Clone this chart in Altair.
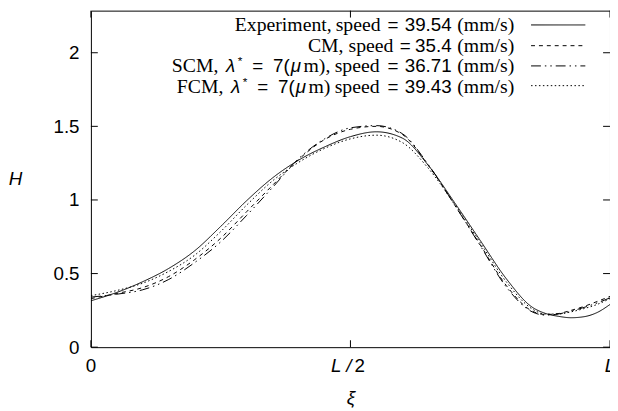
import altair as alt
import pandas as pd

# ---------------- data ----------------
series_names = ["Experiment", "CM", "SCM", "FCM"]
xi = [0.0, 0.05, 0.10, 0.15, 0.20, 0.25, 0.30, 0.35, 0.40, 0.45, 0.50, 0.55,
      0.60, 0.65, 0.70, 0.75, 0.80, 0.85, 0.875, 0.90, 0.925, 0.95, 0.975, 1.0]
H_exp = [0.315, 0.372, 0.445, 0.535, 0.655, 0.82, 0.995, 1.15, 1.27, 1.36, 1.43, 1.463,
         1.42, 1.235, 0.985, 0.725, 0.466, 0.272, 0.23, 0.21, 0.20, 0.207, 0.235, 0.29]
H_cm = [0.33, 0.365, 0.405, 0.48, 0.595, 0.74, 0.92, 1.10, 1.275, 1.41, 1.48, 1.50,
        1.445, 1.235, 0.97, 0.695, 0.42, 0.245, 0.222, 0.228, 0.25, 0.277, 0.31, 0.345]
H_scm = [0.34, 0.36, 0.39, 0.46, 0.575, 0.715, 0.895, 1.085, 1.28, 1.415, 1.49, 1.505,
         1.45, 1.24, 0.97, 0.69, 0.41, 0.24, 0.218, 0.225, 0.245, 0.27, 0.30, 0.335]
H_fcm = [0.35, 0.385, 0.435, 0.515, 0.625, 0.785, 0.965, 1.13, 1.255, 1.35, 1.415, 1.44,
         1.39, 1.215, 0.975, 0.71, 0.445, 0.26, 0.225, 0.225, 0.24, 0.262, 0.29, 0.33]

y_ticks = [0, 0.5, 1, 1.5, 2]
x_ticks = [0, 0.5, 1]

rows = []
for name, vals in zip(series_names, [H_exp, H_cm, H_scm, H_fcm]):
    for x, h in zip(xi, vals):
        rows.append({"series": name, "xi": x, "H": h})
df = pd.DataFrame(rows)

# ---------------- layout / style ----------------
W, HGT = 526, 341
YMAX = 2.286
OX, OY = 92, 8          # page position of the plot origin
dashes = [[1, 0], [4, 4], [10, 4, 1.5, 4, 1.5, 4], [1.5, 2.5]]
SANS = "Liberation Sans"
SERIF = "Liberation Serif"
FS = 19


def to_xi(page_x):
    return (page_x - OX) / W


def to_H(page_y):
    return YMAX * (1 - (page_y - OY) / HGT)


xs = alt.Scale(domain=[0, 1], nice=False, zero=False)
ys = alt.Scale(domain=[0, YMAX], nice=False)
dash_scale = alt.Scale(domain=series_names, range=dashes)

x_axis = alt.Axis(
    title="ξ", labels=False, ticks=False, domain=False, grid=False,
    titleFont=SANS, titleFontStyle="italic", titleFontSize=FS, titleFontWeight="normal",
    titleColor="black", titleY=57, titleBaseline="alphabetic")
y_axis = alt.Axis(
    values=y_ticks, format="~g", title="H", ticks=False, tickSize=0, domain=False, grid=False,
    labelFont=SANS, labelFontSize=FS, labelColor="black", labelPadding=12,
    labelFlush=False, labelOverlap=False, labelBound=False,
    titleFont=SANS, titleFontStyle="italic", titleFontSize=FS, titleFontWeight="normal",
    titleColor="black", titleAngle=0, titleX=-77, titleY=170,
    titleAlign="center", titleBaseline="middle")


def X():
    return alt.X("xi:Q", scale=xs, axis=x_axis, title="ξ")


def Y():
    return alt.Y("H:Q", scale=ys, axis=y_axis, title="H")


lines = alt.Chart(df).mark_line(color="black", strokeWidth=1, interpolate="monotone", clip=True).encode(
    x=X(), y=Y(),
    strokeDash=alt.StrokeDash("series:N", scale=dash_scale, legend=None),
)

ydf = pd.DataFrame({"H": y_ticks})
xdf = pd.DataFrame({"xi": x_ticks})
tick_l = alt.Chart(ydf).mark_rule(color="black", strokeWidth=1).encode(
    y=Y(), x=alt.value(0), x2=alt.value(7))
tick_r = alt.Chart(ydf).mark_rule(color="black", strokeWidth=1).encode(
    y=Y(), x=alt.value(W - 7), x2=alt.value(W))
tick_b = alt.Chart(xdf).mark_rule(color="black", strokeWidth=1).encode(
    x=X(), y=alt.value(HGT - 7), y2=alt.value(HGT))
tick_t = alt.Chart(xdf).mark_rule(color="black", strokeWidth=1).encode(
    x=X(), y=alt.value(0), y2=alt.value(7))

# x tick labels: 0, L / 2, L
LAB_Y = 366


def xlabel(xv, t, align, dx=0, italic=False):
    kw = dict(font=SANS, fontSize=FS, color="black", align=align, baseline="alphabetic", dx=dx)
    if italic:
        kw["fontStyle"] = "italic"
    return alt.Chart(pd.DataFrame({"xi": [xv], "t": [t]})).mark_text(**kw).encode(
        x=X(), y=alt.value(LAB_Y), text="t:N")


xlabels = [
    xlabel(0.0, "0", "center"),
    xlabel(0.5, "L /", "right", dx=1, italic=True),
    xlabel(0.5, "2", "left", dx=4),
    xlabel(1.0, "L", "center", italic=True),
]

# ---------------- legend (manual, top right inside plot) ----------------
leg_line_page_y = [22.5, 43.5, 64.0, 84.0]
leg_lines = alt.Chart(pd.DataFrame({
    "series": series_names,
    "H": [to_H(v) for v in leg_line_page_y]})).mark_rule(color="black", strokeWidth=1).encode(
    y=Y(), x=alt.value(538 - OX), x2=alt.value(593 - OX),
    strokeDash=alt.StrokeDash("series:N", scale=dash_scale, legend=None))

bl = [28.2, 49.5, 70.0, 91.0]   # baselines (page y)
S3 = 4  # shift of the lambda rows
# (text, page x, align, baseline y, kind)
segs = [
    ("Experiment,", 336, "right", bl[0], "serif"), ("speed", 340, "left", bl[0], "serif"),
    ("=", 392.5, "left", bl[0], "sans"), ("39.54", 410, "left", bl[0], "sans"),
    ("(mm/s)", 521, "right", bl[0], "serif"),

    ("CM,", 348, "right", bl[1], "serif"), ("speed", 353, "left", bl[1], "serif"),
    ("=", 405, "left", bl[1], "sans"), ("35.4", 457.5, "right", bl[1], "sans"),
    ("(mm/s)", 521, "right", bl[1], "serif"),

    ("SCM,", 170 + S3, "left", bl[2], "serif"), ("λ", 225 + S3, "left", bl[2], "it"),
    ("*", 236.8 + S3, "left", bl[2] - 7, "sup"), ("=", 251.5 + S3, "left", bl[2], "sans"),
    ("7(", 272.6 + S3, "left", bl[2], "sans"), ("μ", 290.5 + S3, "left", bl[2], "it"),
    ("m),", 303.4 + S3, "left", bl[2], "serif"), ("speed", 339, "left", bl[2], "serif"),
    ("=", 392.5, "left", bl[2], "sans"), ("36.71", 410, "left", bl[2], "sans"),
    ("(mm/s)", 521, "right", bl[2], "serif"),

    ("FCM,", 175 + S3, "left", bl[3], "serif"), ("λ", 230 + S3, "left", bl[3], "it"),
    ("*", 241.8 + S3, "left", bl[3] - 7, "sup"), ("=", 256.5 + S3, "left", bl[3], "sans"),
    ("7(", 277.6 + S3, "left", bl[3], "sans"), ("μ", 295.5 + S3, "left", bl[3], "it"),
    ("m)", 308.4 + S3, "left", bl[3], "serif"), ("speed", 339, "left", bl[3], "serif"),
    ("=", 392.5, "left", bl[3], "sans"), ("39.43", 410, "left", bl[3], "sans"),
    ("(mm/s)", 521, "right", bl[3], "serif"),
]
segdf = pd.DataFrame(segs, columns=["t", "px", "align", "py", "kind"])
segdf["xi"] = segdf["px"].map(to_xi)
segdf["H"] = segdf["py"].map(to_H)

styles = {
    "serif": dict(font=SERIF, fontSize=20),
    "sans": dict(font=SANS, fontSize=19),
    "it": dict(font=SANS, fontSize=19, fontStyle="italic"),
    "sup": dict(font=SANS, fontSize=12),
}
leg_text = []
for (kind, align), sub in segdf.groupby(["kind", "align"]):
    leg_text.append(alt.Chart(sub[["t", "xi", "H"]]).mark_text(
        color="black", align=align, baseline="alphabetic", **styles[kind]).encode(
        x=X(), y=Y(), text="t:N"))

chart = alt.layer(
    lines, tick_l, tick_r, tick_b, tick_t, *xlabels, leg_lines, *leg_text
).properties(
    width=W, height=HGT,
    autosize=alt.AutoSizeParams(type="none"),
    padding={"left": OX - 8, "top": OY - 8, "right": 0, "bottom": 411 - 8 - (OY - 8) - HGT - 8 + 8},
    background="white",
).configure_view(stroke="black", strokeWidth=1)

chart.save("out.html", embed_options={"renderer": "svg", "actions": False})
